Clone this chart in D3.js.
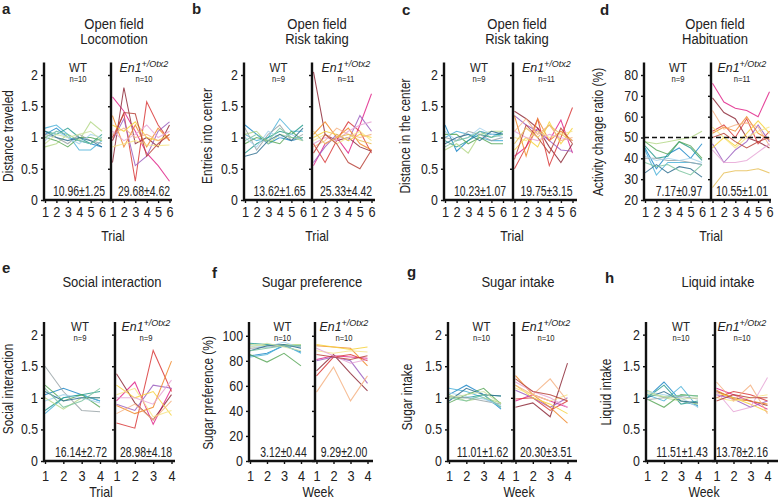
<!DOCTYPE html>
<html><head><meta charset="utf-8">
<script src="https://cdn.jsdelivr.net/npm/d3@7"></script>
<style>
body{margin:0;background:#fff}
svg{display:block}
text{font-family:"Liberation Sans Narrow","Arial Narrow","Liberation Sans",Arial,sans-serif;fill:#222}
</style>
</head><body>
<svg id="c" width="778" height="499"></svg>
<script>
// ---------- data ----------
const trials6 = [1,2,3,4,5,6];
const weeks4 = [1,2,3,4];
const wtColors = ["#1e88c8","#4fb3d9","#2a9d8f","#b5d88a","#5aa85a","#9aa5a8","#a8d4ec","#2f6f8f","#7cc4a0","#cfe3a5"];
const mutColors = ["#e0268a","#8e2c3a","#d93a3a","#9b5fc0","#f08a2c","#f6d23c","#f7e58a","#f4b183","#e6a6d6","#b8433a","#e8c15a"];

const aWT = [
 [1.05,1.15,1.0,0.95,0.9,0.85],[1.15,1.2,1.05,0.8,0.8,0.95],[1.1,1.05,1.15,1.0,0.9,1.05],
 [0.85,0.9,1.05,0.95,1.25,1.1],[1.0,0.95,0.85,1.0,1.0,0.95],[1.05,1.0,0.9,1.05,0.95,0.9],
 [0.95,1.1,1.0,0.9,1.05,1.0],[1.1,1.0,0.95,1.0,0.95,0.85],[1.0,1.1,1.05,0.95,0.9,1.0],
 [0.9,1.05,1.0,1.05,1.1,0.95]];
const aMut = [
 [1.65,1.42,1.1,0.75,0.55,0.3],[0.6,1.8,0.9,1.0,0.85,1.2],[1.0,1.38,0.3,1.57,1.2,0.95],
 [0.95,1.3,0.55,0.7,1.1,1.25],[1.35,0.85,1.2,0.85,1.15,0.95],[1.2,1.1,1.25,1.0,0.95,1.05],
 [0.85,0.9,0.95,0.88,0.87,0.88],[1.05,1.15,1.0,1.05,0.95,1.0],[1.1,0.95,1.05,1.2,1.0,1.1],
 [0.95,1.4,1.38,0.7,0.9,1.05]];
const bWT = [
 [1.2,1.05,0.9,1.0,0.95,1.0],[1.05,0.95,1.0,1.3,1.1,1.1],[0.75,0.9,1.0,1.1,1.05,1.2],
 [1.05,1.1,0.9,1.05,1.0,0.95],[0.9,1.0,0.95,0.9,1.1,0.95],[1.15,0.8,1.05,1.2,0.95,1.05],
 [1.0,0.85,1.1,1.0,1.05,0.95],[0.7,0.75,0.95,1.05,0.95,1.15],[0.95,1.05,0.95,1.15,1.0,1.0]];
const bMut = [
 [0.55,0.9,1.0,0.75,1.2,1.7],[2.05,1.05,0.95,1.0,0.85,0.78],[0.9,0.6,0.95,1.25,1.1,0.75],
 [0.6,0.85,1.05,0.95,1.35,1.1],[1.05,1.25,1.0,1.15,0.9,0.8],[1.0,1.1,1.05,0.95,1.05,1.0],
 [0.95,1.05,0.9,1.0,1.1,0.95],[0.85,0.95,1.15,1.05,1.0,1.05],[0.9,1.0,0.95,1.1,1.2,1.25],
 [0.75,1.05,0.9,0.6,0.5,0.8],[1.1,0.9,1.0,1.05,0.95,0.9]];
const cWT = [
 [1.2,0.78,0.95,1.1,1.05,1.05],[1.0,1.1,1.05,1.0,0.95,0.95],[0.95,0.85,0.95,1.05,1.0,1.1],
 [0.8,0.9,0.75,1.05,1.1,1.1],[1.05,1.05,0.9,1.0,0.9,0.9],[1.0,0.95,1.1,1.05,0.95,1.0],
 [1.1,0.95,1.0,1.15,1.05,1.0],[0.9,1.0,1.05,0.95,1.1,1.05],[0.85,0.95,1.0,1.1,1.0,1.05]];
const cMut = [
 [0.7,0.85,1.15,0.95,1.28,0.75],[1.42,1.3,1.15,0.85,0.6,0.9],[0.5,0.85,1.3,0.55,1.0,1.48],
 [1.35,1.2,1.1,0.95,0.8,0.78],[1.35,0.7,1.3,0.95,1.1,0.95],[0.8,1.0,0.85,1.25,0.9,1.15],
 [1.0,0.95,1.1,1.0,1.05,1.1],[1.1,1.3,1.05,1.2,0.95,1.0],[1.1,1.0,0.95,1.05,1.0,0.95],
 [0.65,1.2,1.0,0.75,1.15,0.9],[0.9,1.15,1.0,1.2,1.05,0.95]];
const dWT = [
 [45,35,42,45,40,47],[44,32,38,38,38,37],[46,40,41,48,45,39],[48,47,48,49,50,53],
 [48,44,42,48,46,40],[40,40,39,39,38,37],[41,39,40,39,40,38],[33,37,33,36,35,31],
 [38,36,37,34,32,37]];
const dMut = [
 [76,67,64,63,60,72],[69,62,59,50,48,45],[53,56,50,59,47,53],[47,38,44,48,56,48],
 [52,55,53,60,52,49],[45,50,46,52,58,52],[55,50,45,50,53,55],[63,54,56,57,55,46],
 [44,38,38,39,43,47],[50,52,48,45,48,50],[26,33,34,34,35,33]];
const eWT = [
 [1.05,1.15,1.05,0.95],[0.75,1.0,1.05,0.95],[0.8,1.0,1.05,1.1],[1.0,0.82,1.0,1.0],
 [1.2,0.95,1.05,0.85],[1.5,1.1,0.8,0.78],[0.95,1.05,1.0,0.92],[1.1,0.95,1.0,1.0],
 [1.15,0.85,0.95,1.15]];
const eMut = [
 [0.95,1.25,0.58,1.15],[1.38,0.92,0.65,1.05],[0.6,0.52,1.75,1.1],[0.9,0.8,1.2,1.15],
 [0.88,0.75,0.85,1.58],[1.2,1.0,1.1,0.72],[1.05,1.15,0.7,0.8],[0.75,0.9,0.65,0.95],
 [1.0,1.0,0.9,1.28]];
const fWT = [
 [84,86,92,87],[83,85,93,86],[94,93,92,92],[93,92,93,93],[85,79,86,76],
 [90,91,92,91],[92,91,95,90],[88,92,93,90],[88,90,92,92],[91,94,91,88]];
const fMut = [
 [81,84,83,82],[72,85,70,56],[68,83,85,80],[80,83,80,62],[92,91,90,76],
 [93,91,89,91],[88,86,88,87],[55,75,48,68],[90,84,78,81],[85,83,81,84]];
const gWT = [
 [1.05,1.2,1.05,0.82],[1.15,1.1,1.0,0.85],[1.0,1.0,1.05,1.03],[1.05,0.95,1.0,0.92],
 [0.92,1.05,1.15,0.9],[1.02,1.0,0.95,0.9],[1.08,1.02,0.98,0.88],[0.95,1.15,1.05,1.03],
 [1.0,0.95,1.05,0.85],[1.0,1.05,1.1,0.9]];
const gMut = [
 [0.95,1.05,0.95,0.85],[0.85,0.92,0.7,1.55],[0.98,1.0,0.8,0.95],[1.12,1.0,0.85,1.0],
 [1.35,1.05,0.85,0.6],[1.2,1.0,0.9,0.75],[1.15,1.05,0.95,1.05],[1.2,1.05,1.3,0.95],
 [1.25,1.1,1.0,0.85],[1.3,1.1,1.05,0.95]];
const hWT = [
 [1.0,1.25,0.95,0.88],[1.05,0.95,1.18,0.85],[1.0,1.2,0.9,0.95],[1.12,1.0,0.95,0.9],
 [0.98,0.85,1.05,1.03],[0.97,1.0,1.02,0.98],[1.1,1.05,1.0,0.85],[1.0,1.1,0.95,0.92],
 [1.05,1.02,1.04,1.03],[1.08,1.02,0.98,1.0]];
const hMut = [
 [1.15,1.05,0.95,0.82],[1.1,1.0,0.95,0.88],[1.0,1.1,1.05,0.95],[1.05,0.98,0.85,0.95],
 [1.12,0.98,0.95,0.9],[1.08,1.0,0.9,0.78],[1.0,0.95,1.0,1.05],[1.25,0.95,1.2,0.75],
 [1.1,0.78,0.85,1.32],[0.95,1.05,1.0,1.0]];

const ratioTicks = [0,0.5,1,1.5,2];
const pctTicksD = [20,30,40,50,60,70,80];
const pctTicksF = [0,20,40,60,80,100];
const panelLetters = ["a","b","c","d","e","f","g","h"];
const panelTitles = [["Open field","Locomotion"],["Open field","Risk taking"],["Open field","Risk taking"],["Open field","Habituation"],["Social interaction"],["Sugar preference"],["Sugar intake"],["Liquid intake"]];
const yLabels = ["Distance traveled","Entries into center","Distance in the center","Activity change ratio (%)","Social interaction","Sugar preference (%)","Sugar intake","Liquid intake"];
const xLabels = ["Trial","Trial","Trial","Trial","Trial","Week","Week","Week"];
const nWT = ["n=10","n=9","n=9","n=9","n=9","n=10","n=10","n=10"];
const nMut = ["n=10","n=11","n=11","n=11","n=9","n=10","n=10","n=10"];
const statsWT = ["10.96±1.25","13.62±1.65","10.23±1.07","7.17±0.97","16.14±2.72","3.12±0.44","11.01±1.62","11.51±1.43"];
const statsMut = ["29.68±4.62","25.33±4.42","19.75±3.15","10.55±1.01","28.98±4.18","9.29±2.00","20.30±3.51","13.78±2.16"];

// ---------- layout ----------
const layout = [
 {axis:44, div:111,end:172,span:57,sm:33,y0:200,yTop:62.5,dom:[0,2.2],ticks:ratioTicks,xs:trials6,wt:aWT,mut:aMut,lx:2,ly:13.5,tx:114,ty:28.5,ylx:13,yly:136,xlx:113},
 {axis:244,div:312,end:375,span:58,sm:34,y0:200,yTop:62.5,dom:[0,2.2],ticks:ratioTicks,xs:trials6,wt:bWT,mut:bMut,lx:192,ly:14,tx:317,ty:28.5,ylx:212,yly:136,xlx:317},
 {axis:444,div:513,end:577,span:58,sm:33.5,y0:200,yTop:62.5,dom:[0,2.2],ticks:ratioTicks,xs:trials6,wt:cWT,mut:cMut,lx:402,ly:15,tx:517,ty:28.5,ylx:410,yly:136,xlx:512},
 {axis:644,div:711,end:771,span:57,sm:31,y0:200,yTop:62.5,dom:[20,86],ticks:pctTicksD,xs:trials6,wt:dWT,mut:dMut,lx:600,ly:15,tx:715,ty:28.5,ylx:603,yly:132,xlx:711,dash:50},
 {axis:44, div:115,end:175,span:55,sm:31,y0:461,yTop:322,dom:[0,2.2],ticks:ratioTicks,xs:weeks4,wt:eWT,mut:eMut,lx:2,ly:273,tx:112,ty:287,ylx:13,yly:389,xlx:101},
 {axis:249,div:315,end:373,span:51,sm:29,y0:461,yTop:322,dom:[0,111],ticks:pctTicksF,xs:weeks4,wt:fWT,mut:fMut,lx:212,ly:278,tx:312,ty:287,ylx:213,yly:393,xlx:318},
 {axis:448,div:514,end:577,span:52,sm:32,y0:461,yTop:322,dom:[0,2.2],ticks:ratioTicks,xs:weeks4,wt:gWT,mut:gMut,lx:407,ly:277,tx:518,ty:287,ylx:412,yly:397,xlx:519},
 {axis:646,div:715,end:778,span:51,sm:27,y0:461,yTop:322,dom:[0,2.2],ticks:ratioTicks,xs:weeks4,wt:hWT,mut:hMut,lx:605,ly:283,tx:718,ty:287,ylx:611,yly:392,xlx:704}
];

const svg = d3.select("#c");

function condense(sel, f) {
  sel.each(function () {
    const L = this.getComputedTextLength();
    d3.select(this).attr("textLength", (L * f).toFixed(1)).attr("lengthAdjust", "spacingAndGlyphs");
  });
  return sel;
}

layout.forEach((p, i) => {
  const g = svg.append("g");
  const y = d3.scaleLinear().domain(p.dom).range([p.y0, p.yTop]);
  const n = p.xs.length;
  const x1 = d3.scaleLinear().domain([1, n]).range([p.axis + 1, p.axis + 1 + p.span]);
  const x2 = d3.scaleLinear().domain([1, n]).range([p.div + 1.5, p.div + 1.5 + p.span]);

  const line1 = d3.line().x((d, k) => x1(p.xs[k])).y(d => y(d));
  const line2 = d3.line().x((d, k) => x2(p.xs[k])).y(d => y(d));

  g.selectAll("path.wt").data(p.wt).join("path")
    .attr("d", line1).attr("fill", "none")
    .attr("stroke", (d, k) => wtColors[k % wtColors.length])
    .attr("stroke-width", 1.05).attr("stroke-opacity", 0.85);
  g.selectAll("path.mut").data(p.mut).join("path")
    .attr("d", line2).attr("fill", "none")
    .attr("stroke", (d, k) => mutColors[k % mutColors.length])
    .attr("stroke-width", 1.05).attr("stroke-opacity", 0.85);

  if (p.dash !== undefined) {
    g.append("line").attr("x1", p.axis).attr("x2", p.end)
      .attr("y1", y(p.dash)).attr("y2", y(p.dash))
      .attr("stroke", "#111").attr("stroke-width", 1.4).attr("stroke-dasharray", "5,3");
  }

  // y axis with labels
  const ya = g.append("g").attr("transform", `translate(${p.axis},0)`)
    .call(d3.axisLeft(y).tickValues(p.ticks).tickSize(3).tickSizeOuter(0).tickFormat(d => d));
  ya.select(".domain").remove();
  ya.selectAll(".tick line").attr("stroke", "#111").attr("stroke-width", 1.4);
  ya.selectAll(".tick text").attr("x", -6).style("font-size", "14px").attr("fill", "#222");
  condense(ya.selectAll(".tick text"), 0.88);

  // divider axis
  const yb = g.append("g").attr("transform", `translate(${p.div},0)`)
    .call(d3.axisLeft(y).tickValues(p.ticks).tickSize(3).tickSizeOuter(0).tickFormat(""));
  yb.select(".domain").remove();
  yb.selectAll(".tick line").attr("stroke", "#111").attr("stroke-width", 1.4);

  g.append("line").attr("x1", p.axis).attr("x2", p.axis).attr("y1", p.y0 + 1).attr("y2", p.yTop)
    .attr("stroke", "#111").attr("stroke-width", 2.4);
  g.append("line").attr("x1", p.div).attr("x2", p.div).attr("y1", p.y0 + 1).attr("y2", p.yTop)
    .attr("stroke", "#111").attr("stroke-width", 2.4);

  // x axes
  [x1, x2].forEach(xs => {
    const xa = g.append("g").attr("transform", `translate(0,${p.y0})`)
      .call(d3.axisBottom(xs).tickValues(p.xs).tickSize(3).tickSizeOuter(0).tickFormat(d3.format("d")));
    xa.select(".domain").remove();
    xa.selectAll(".tick line").attr("stroke", "#111").attr("stroke-width", 1.4);
    xa.selectAll(".tick text").attr("y", i < 4 ? 6 : 9).style("font-size", "15px").attr("fill", "#222");
    condense(xa.selectAll(".tick text"), 0.85);
  });
  g.append("line").attr("x1", p.axis - 1).attr("x2", p.end).attr("y1", p.y0).attr("y2", p.y0)
    .attr("stroke", "#111").attr("stroke-width", 2.4);

  // texts
  g.append("text").attr("x", p.lx).attr("y", p.ly).text(panelLetters[i])
    .style("font-family", "Liberation Sans, Arial, sans-serif").style("font-weight", "bold").style("font-size", "15px").attr("fill", "#111");
  panelTitles[i].forEach((t, k) => {
    condense(g.append("text").attr("x", p.tx).attr("y", p.ty + k * 15).attr("text-anchor", "middle")
      .style("font-size", "15.5px").text(t), 0.84);
  });
  condense(g.append("text").attr("transform", `translate(${p.ylx},${p.yly}) rotate(-90)`)
    .attr("text-anchor", "middle").style("font-size", "14.5px").text(yLabels[i]), 0.82);
  condense(g.append("text").attr("x", p.xlx).attr("y", i < 4 ? 241 : 497).attr("text-anchor", "middle")
    .style("font-size", "15px").text(xLabels[i]), 0.82);

  const cW = (p.axis + p.div) / 2 + 0.5, cM = p.div + p.sm;
  condense(g.append("text").attr("x", cW).attr("y", p.yTop + 9).attr("text-anchor", "middle")
    .style("font-size", "13px").text("WT"), 0.88);
  condense(g.append("text").attr("x", cW).attr("y", p.yTop + 19).attr("text-anchor", "middle")
    .style("font-size", "8.5px").attr("fill", "#555").text(nWT[i]), 0.9);
  const mt = g.append("text").attr("x", cM).attr("y", p.yTop + 9).attr("text-anchor", "middle")
    .style("font-size", "13px").style("font-style", "italic");
  mt.append("tspan").text("En1");
  mt.append("tspan").attr("dy", -5).style("font-size", "9.5px").text("+/Otx2");
  condense(mt, 0.95);
  condense(g.append("text").attr("x", cM).attr("y", p.yTop + 19).attr("text-anchor", "middle")
    .style("font-size", "8.5px").attr("fill", "#555").text(nMut[i]), 0.9);

  condense(g.append("text").attr("x", cW + 1).attr("y", p.y0 - 4).attr("text-anchor", "middle")
    .style("font-size", "14.5px").text(statsWT[i]), 0.72);
  condense(g.append("text").attr("x", cM).attr("y", p.y0 - 4).attr("text-anchor", "middle")
    .style("font-size", "14.5px").text(statsMut[i]), 0.72);
});
</script>
</body></html>
